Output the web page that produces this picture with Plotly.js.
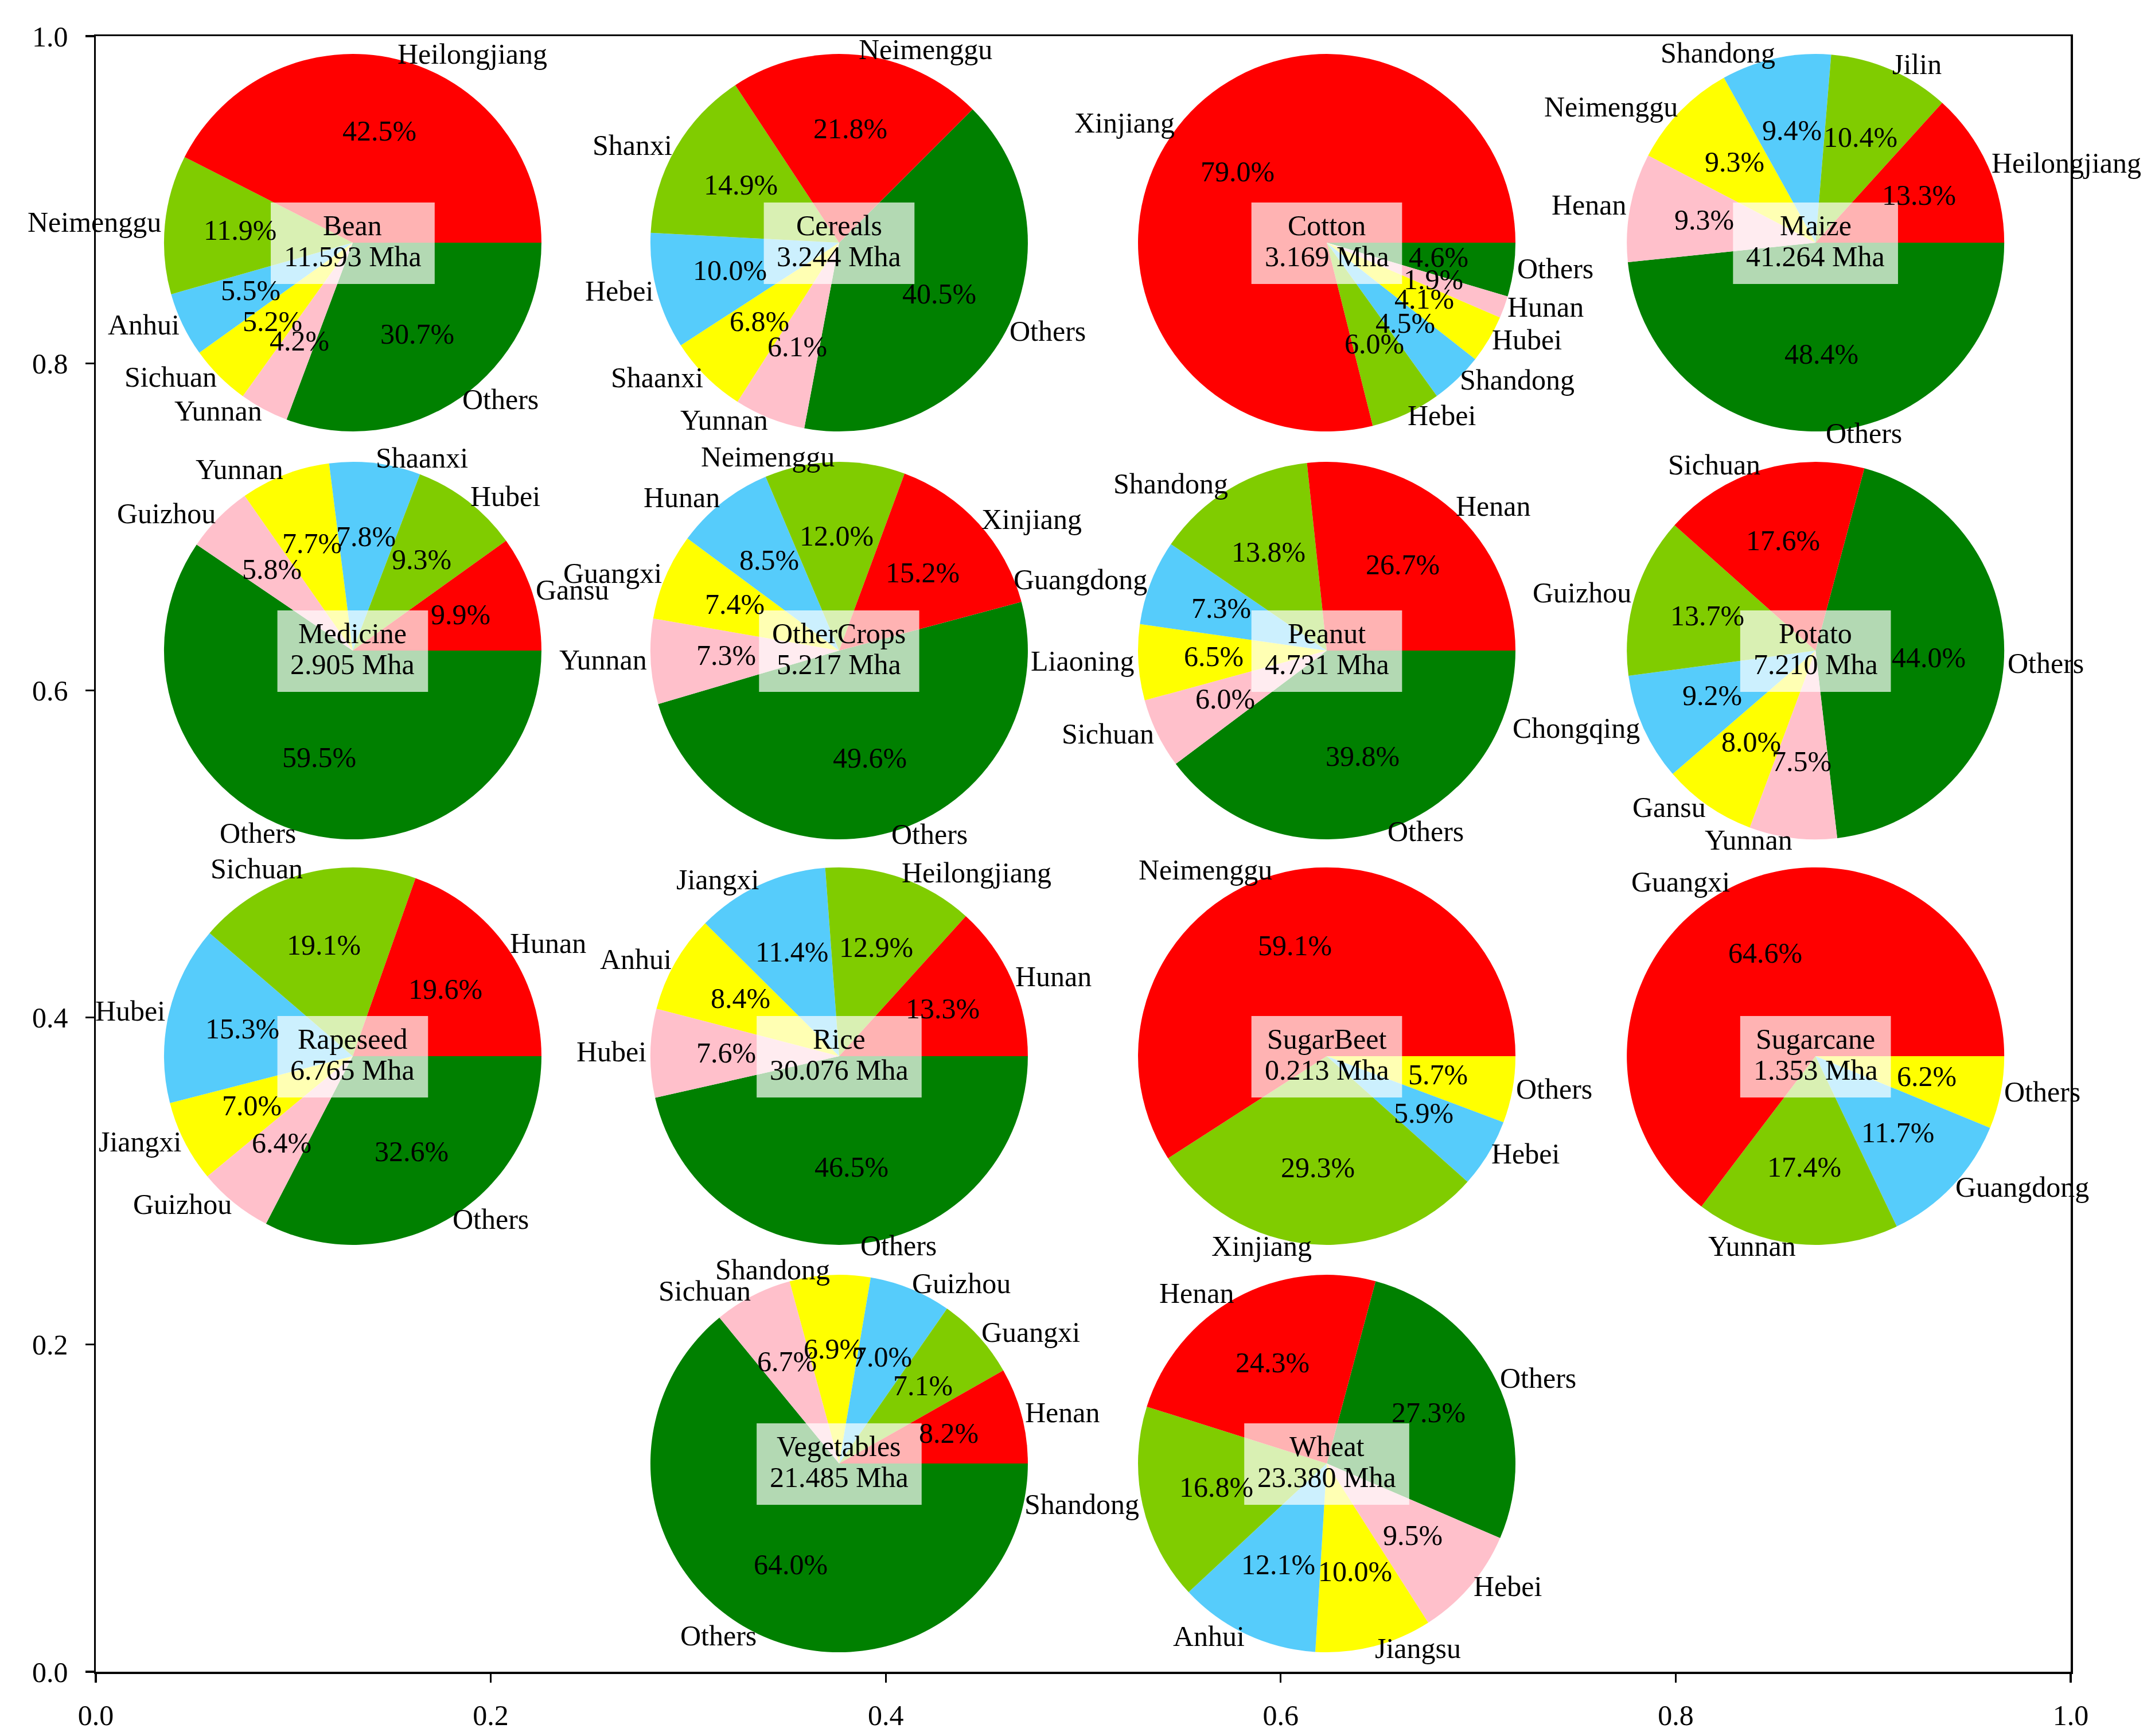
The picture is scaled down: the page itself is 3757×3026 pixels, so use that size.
<!DOCTYPE html>
<html>
<head>
<meta charset="utf-8">
<script src="https://cdn.plot.ly/plotly-3.0.1.min.js"></script>
<style>html,body{margin:0;padding:0;background:#ffffff;}</style>
</head>
<body>
<div id="chart" style="width:3757px;height:3026px;"></div>
<script>
// ---------------- DATA ----------------
const cropNames = ['Bean','Cereals','Cotton','Maize','Medicine','OtherCrops','Peanut','Potato',
                   'Rapeseed','Rice','SugarBeet','Sugarcane','Vegetables','Wheat'];
const cropAreaMha = [11.593, 3.244, 3.169, 41.264, 2.905, 5.217, 4.731, 7.210,
                     6.765, 30.076, 0.213, 1.353, 21.485, 23.380];

const beanRegions = ['Heilongjiang','Neimenggu','Anhui','Sichuan','Yunnan','Others'];
const beanShare   = [42.5, 11.9, 5.5, 5.2, 4.2, 30.7];
const cerealsRegions = ['Neimenggu','Shanxi','Hebei','Shaanxi','Yunnan','Others'];
const cerealsShare   = [21.8, 14.9, 10.0, 6.8, 6.1, 40.5];
const cottonRegions = ['Xinjiang','Hebei','Shandong','Hubei','Hunan','Others'];
const cottonShare   = [79.0, 6.0, 4.5, 4.1, 1.9, 4.6];
const maizeRegions = ['Heilongjiang','Jilin','Shandong','Neimenggu','Henan','Others'];
const maizeShare   = [13.3, 10.4, 9.4, 9.3, 9.3, 48.4];
const medicineRegions = ['Gansu','Hubei','Shaanxi','Yunnan','Guizhou','Others'];
const medicineShare   = [9.9, 9.3, 7.8, 7.7, 5.8, 59.5];
const otherCropsRegions = ['Xinjiang','Neimenggu','Hunan','Guangxi','Yunnan','Others'];
const otherCropsShare   = [15.2, 12.0, 8.5, 7.4, 7.3, 49.6];
const peanutRegions = ['Henan','Shandong','Guangdong','Liaoning','Sichuan','Others'];
const peanutShare   = [26.7, 13.8, 7.3, 6.5, 6.0, 39.8];
const potatoRegions = ['Sichuan','Guizhou','Chongqing','Gansu','Yunnan','Others'];
const potatoShare   = [17.6, 13.7, 9.2, 8.0, 7.5, 44.0];
const rapeseedRegions = ['Hunan','Sichuan','Hubei','Jiangxi','Guizhou','Others'];
const rapeseedShare   = [19.6, 19.1, 15.3, 7.0, 6.4, 32.6];
const riceRegions = ['Hunan','Heilongjiang','Jiangxi','Anhui','Hubei','Others'];
const riceShare   = [13.3, 12.9, 11.4, 8.4, 7.6, 46.5];
const sugarBeetRegions = ['Neimenggu','Xinjiang','Hebei','Others'];
const sugarBeetShare   = [59.1, 29.3, 5.9, 5.7];
const sugarcaneRegions = ['Guangxi','Yunnan','Guangdong','Others'];
const sugarcaneShare   = [64.6, 17.4, 11.7, 6.2];
const vegetablesRegions = ['Henan','Guangxi','Guizhou','Shandong','Sichuan','Others'];
const vegetablesShare   = [8.2, 7.1, 7.0, 6.9, 6.7, 64.0];
const wheatRegions = ['Henan','Shandong','Anhui','Jiangsu','Hebei','Others'];
const wheatShare   = [24.3, 16.8, 12.1, 10.0, 9.5, 27.3];

const tickValues = [0, 0.2, 0.4, 0.6, 0.8, 1.0];
const tickLabels = ['0.0', '0.2', '0.4', '0.6', '0.8', '1.0'];

const regionsByCrop = [beanRegions, cerealsRegions, cottonRegions, maizeRegions, medicineRegions,
  otherCropsRegions, peanutRegions, potatoRegions, rapeseedRegions, riceRegions,
  sugarBeetRegions, sugarcaneRegions, vegetablesRegions, wheatRegions];
const sharesByCrop = [beanShare, cerealsShare, cottonShare, maizeShare, medicineShare,
  otherCropsShare, peanutShare, potatoShare, rapeseedShare, riceShare,
  sugarBeetShare, sugarcaneShare, vegetablesShare, wheatShare];

// ---------------- LAYOUT / STYLE ----------------
const W = 3757, H = 3026;
const M = {l: 167, r: 147, t: 63, b: 112};
const plotW = W - M.l - M.r, plotH = H - M.t - M.b;
const R = 329;                 // pie radius in px
const LABEL_DIST = 1.02, PCT_DIST = 0.6;
const TY = 3;                  // small vertical text adjustment (px)
const colX = [0.1301, 0.3764, 0.6233, 0.8708];
const rowY = [0.8737, 0.6243, 0.3764, 0.1273];
const cellOf = {Bean:[0,0], Cereals:[1,0], Cotton:[2,0], Maize:[3,0],
  Medicine:[0,1], OtherCrops:[1,1], Peanut:[2,1], Potato:[3,1],
  Rapeseed:[0,2], Rice:[1,2], SugarBeet:[2,2], Sugarcane:[3,2],
  Vegetables:[1,3], Wheat:[2,3]};
const startAngle = {Cereals:45, OtherCrops:15, Potato:75, Wheat:75};
const palette = ['#FF0000', '#80CC00', '#56CCFB', '#FFFF00', '#FFC0CB', '#008000'];
const FONT = {family: '"Liberation Serif", "Times New Roman", serif', size: 50, color: '#000000'};

const canvas = document.createElement('canvas');
const ctx = canvas.getContext('2d');
ctx.font = '50px "Liberation Serif"';

const traces = [{type: 'scatter', x: [], y: [], xaxis: 'x', yaxis: 'y',
                 hoverinfo: 'skip', showlegend: false}];
const annotations = [];
const shapes = [];

cropNames.forEach((name, i) => {
  const [col, row] = cellOf[name];
  const cx = colX[col], cy = rowY[row];
  const vals = sharesByCrop[i];
  const labs = regionsByCrop[i];
  const cols = palette.slice(0, vals.length);
  const S = startAngle[name] || 0;
  const total = vals.reduce((a, b) => a + b, 0);

  traces.push({
    type: 'pie',
    values: vals.slice().reverse(),
    labels: labs.slice().reverse(),
    marker: {colors: cols.slice().reverse(), line: {width: 0}},
    sort: false,
    direction: 'clockwise',
    rotation: ((90 - S) % 360 + 540) % 360 - 180,
    textinfo: 'none',
    hoverinfo: 'none',
    showlegend: false,
    domain: {x: [cx - R / plotW, cx + R / plotW], y: [cy - R / plotH, cy + R / plotH]}
  });

  let cum = 0;
  vals.forEach((v, k) => {
    const mid = (S + 360 * (cum + v / 2) / total) * Math.PI / 180;
    cum += v;
    const c = Math.cos(mid), s = Math.sin(mid);
    annotations.push({x: cx, y: cy, xref: 'x', yref: 'y', showarrow: false,
      text: v.toFixed(1) + '%', xanchor: 'center', yanchor: 'middle',
      xshift: PCT_DIST * R * c, yshift: PCT_DIST * R * s + TY,
      font: FONT, borderpad: 0, borderwidth: 0});
    annotations.push({x: cx, y: cy, xref: 'x', yref: 'y', showarrow: false,
      text: labs[k], xanchor: c > 0 ? 'left' : 'right', yanchor: 'middle',
      xshift: LABEL_DIST * R * c, yshift: LABEL_DIST * R * s + TY,
      font: FONT, borderpad: 0, borderwidth: 0});
  });

  const line1 = name, line2 = cropAreaMha[i].toFixed(3) + ' Mha';
  const tw = Math.max(ctx.measureText(line1).width, ctx.measureText(line2).width);
  const bw = tw + 46;
  shapes.push({type: 'rect', xref: 'x', yref: 'y', xsizemode: 'pixel', ysizemode: 'pixel',
    xanchor: cx, yanchor: cy, x0: -bw / 2, x1: bw / 2, y0: -72, y1: 70,
    fillcolor: 'rgba(255,255,255,0.7)', line: {width: 0}, layer: 'above'});
  annotations.push({x: cx, y: cy, xref: 'x', yref: 'y', showarrow: false, text: line1,
    xanchor: 'center', yanchor: 'middle', yshift: 30, font: FONT, borderpad: 0, borderwidth: 0});
  annotations.push({x: cx, y: cy, xref: 'x', yref: 'y', showarrow: false, text: line2,
    xanchor: 'center', yanchor: 'middle', yshift: -24, font: FONT, borderpad: 0, borderwidth: 0});
});

const axisCommon = {
  range: [0, 1], tickvals: tickValues, ticktext: tickLabels,
  ticks: 'outside', ticklen: 15, tickwidth: 3.3, tickcolor: '#000',
  showline: true, linewidth: 3.5, linecolor: '#000', mirror: true,
  showgrid: false, zeroline: false, fixedrange: true,
  tickfont: FONT
};

const layout = {
  width: W, height: H,
  margin: M,
  paper_bgcolor: '#ffffff', plot_bgcolor: '#ffffff',
  xaxis: Object.assign({}, axisCommon, {domain: [0, 1], ticklabelstandoff: 14}),
  yaxis: Object.assign({}, axisCommon, {domain: [0, 1], ticklabelstandoff: 20}),
  showlegend: false,
  hovermode: false,
  annotations: annotations,
  shapes: shapes
};

Plotly.newPlot('chart', traces, layout, {staticPlot: true, displayModeBar: false});
</script>
</body>
</html>
